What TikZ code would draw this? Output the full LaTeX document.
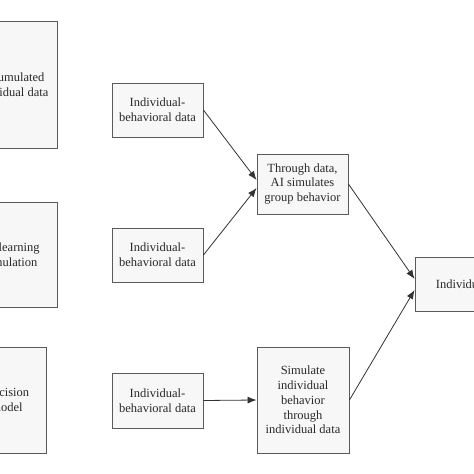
\documentclass[tikz,border=0pt]{standalone}
\usepackage{fontspec}
\setmainfont{Liberation Serif}
\usetikzlibrary{arrows.meta}
\definecolor{boxgray}{HTML}{5A5A5A}
\definecolor{boxfill}{HTML}{F7F7F7}
\definecolor{linegray}{HTML}{333333}
\definecolor{textgray}{HTML}{2A2A2A}
\begin{document}
\begin{tikzpicture}[x=1pt,y=-1pt,
  box/.style={draw=boxgray, fill=boxfill, line width=0.9pt, align=center, inner sep=0pt,
    font=\fontsize{12.5}{14.8}\selectfont, text=textgray},
  arr/.style={draw=linegray, line width=0.8pt, -{Latex[length=9pt,width=7pt]}}]
\useasboundingbox (0,0) rectangle (474,474);
\clip (0,0) rectangle (474,474);
\fill[white] (0,0) rectangle (474,474);
% left column
\node[box, minimum width=92, minimum height=127] (acc) at (11,84.5) {Accumulated\\individual data};
\node[box, minimum width=92, minimum height=105] (ail) at (11,254.5) {AI learning\\simulation};
\node[box, minimum width=78, minimum height=106] (dec) at (7,400) {Decision\\model};
% middle column
\node[box, minimum width=91, minimum height=54] (ia) at (157.5,110) {Individual-\\behavioral data};
\node[box, minimum width=91, minimum height=54] (ib) at (157.5,255) {Individual-\\behavioral data};
\node[box, minimum width=91, minimum height=55] (ic) at (157.5,400.5) {Individual-\\behavioral data};
% third column
\node[box, minimum width=91, minimum height=60] (thr) at (302.5,184) {Through data,\\AI simulates\\group behavior};
\node[box, minimum width=92, minimum height=106] (sim) at (303,400) {Simulate\\individual\\behavior\\through\\individual data};
% right
\node[box, minimum width=140, minimum height=54] (ind) at (485,284) {Individual behavior};
% connectors
\draw[arr] (ia.east) -- ([yshift=4pt]thr.west);
\draw[arr] (ib.east) -- ([yshift=-4pt]thr.west);
\draw[arr] (ic.east) -- (sim.west);
\draw[arr] (thr.east) -- ([yshift=5pt]ind.west);
\draw[arr] (sim.east) -- ([yshift=-6pt]ind.west);
\end{tikzpicture}
\end{document}
